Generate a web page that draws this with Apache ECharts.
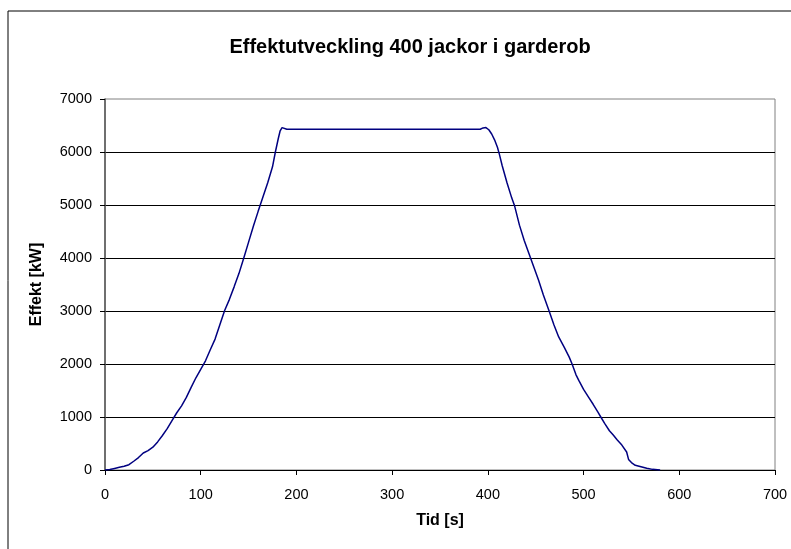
<!DOCTYPE html>
<html>
<head>
<meta charset="utf-8">
<title>Effektutveckling 400 jackor i garderob</title>
<script src="https://cdn.jsdelivr.net/npm/echarts@6/dist/echarts.min.js"></script>
<style>
  html, body { margin: 0; padding: 0; background: #fff; }
  #chart { width: 791px; height: 549px; }
</style>
</head>
<body>
<div id="chart"></div>
<script>
// Heat release over time, 400 jackets in a cloakroom
const timeS = [
  0, 5, 10, 15, 20, 25, 30, 35, 40, 45, 50, 55, 60, 65, 70, 75, 80, 85, 90, 95,
  100, 105, 110, 115, 120, 125, 130, 135, 140, 145, 150, 155, 160, 165, 170, 175,
  178, 181, 183, 185, 187, 190, 250, 300, 350, 392, 395, 398, 401, 404, 407, 410,
  412, 415, 420, 425, 428, 433, 438, 443, 448, 453, 458, 464, 469, 474, 480, 485,
  488, 492, 495, 500, 505, 510, 515, 518, 522, 527, 531, 535, 540, 545, 547, 550,
  554, 560, 566, 572, 580
];
const powerKW = [
  0, 10, 30, 50, 70, 100, 165, 235, 320, 365, 430, 530, 650, 780, 930, 1080, 1210, 1370, 1560, 1740,
  1900, 2060, 2270, 2470, 2740, 3010, 3220, 3460, 3710, 4000, 4300, 4600, 4880, 5150, 5420, 5720,
  6000, 6250, 6400, 6460, 6440, 6430, 6430, 6430, 6430, 6430, 6455, 6460, 6420, 6340, 6230, 6090,
  5960, 5740, 5420, 5130, 4980, 4620, 4330, 4080, 3830, 3580, 3300, 3000, 2740, 2510, 2310, 2130,
  2000, 1800, 1690, 1520, 1380, 1240, 1090, 1000, 880, 740, 660, 570, 470, 340, 200, 140,
  88, 60, 32, 12, 0
];

const titleText = 'Effektutveckling 400 jackor i garderob';
const xName = 'Tid [s]';
const yName = 'Effekt [kW]';

const FONT = '"Liberation Sans", Arial, sans-serif';

const chart = echarts.init(document.getElementById('chart'), null, { renderer: 'canvas' });

chart.setOption({
  backgroundColor: '#ffffff',
  animation: false,
  graphic: [{
    type: 'rect',
    shape: { x: 8, y: 11, width: 820, height: 600 },
    style: { fill: 'none', stroke: '#000', lineWidth: 1 },
    silent: true,
    z: -10
  }],
  title: {
    text: titleText,
    left: 405,
    top: 32,
    textAlign: 'center',
    textStyle: { fontFamily: FONT, fontWeight: 'bold', fontSize: 20, color: '#000' }
  },
  grid: {
    left: 105, right: 16, top: 99, bottom: 79,
    show: true,
    borderColor: '#808080',
    borderWidth: 1,
    backgroundColor: 'transparent'
  },
  xAxis: {
    type: 'value',
    min: 0, max: 700, interval: 100,
    name: xName,
    nameLocation: 'middle',
    nameGap: 43,
    nameTextStyle: { fontFamily: FONT, fontWeight: 'bold', fontSize: 16, color: '#000' },
    axisLine: { show: true, onZero: false, lineStyle: { color: '#000', width: 1 } },
    axisTick: { show: true, inside: false, length: 5, lineStyle: { color: '#000' } },
    axisLabel: { margin: 17, fontFamily: FONT, fontSize: 14.5, color: '#000' },
    splitLine: { show: false }
  },
  yAxis: {
    type: 'value',
    min: 0, max: 7000, interval: 1000,
    name: yName,
    nameLocation: 'middle',
    nameGap: 60,
    nameRotate: 90,
    nameTextStyle: { fontFamily: FONT, fontWeight: 'bold', fontSize: 16, color: '#000' },
    axisLine: { show: true, lineStyle: { color: '#555', width: 1.5 } },
    axisTick: { show: true, inside: false, length: 5, lineStyle: { color: '#000' } },
    axisLabel: {
      margin: 13, fontFamily: FONT, fontSize: 14.5, color: '#000',
      formatter: v => String(v)
    },
    splitLine: { show: true, showMinLine: false, showMaxLine: false, lineStyle: { color: '#000', width: 1 } }
  },
  series: [{
    type: 'line',
    data: timeS.map((t, i) => [t, powerKW[i]]),
    showSymbol: false,
    smooth: false,
    lineStyle: { color: '#000080', width: 1.5 },
    itemStyle: { color: '#000080' },
    clip: true
  }]
});
</script>
</body>
</html>
